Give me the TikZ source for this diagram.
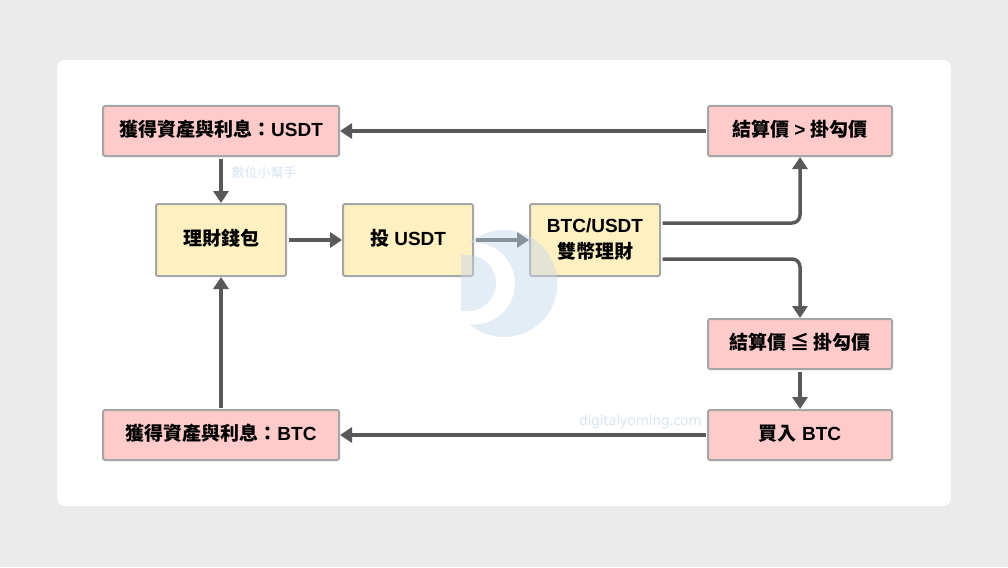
\documentclass[tikz,border=0pt]{standalone}
\usepackage{fontspec}
\setmainfont{Liberation Sans}
\newfontfamily\cjkfont{Noto Sans CJK TC}
\newfontfamily\markfont{Noto Sans}
\newcommand{\zh}[1]{{\cjkfont #1}}
\usetikzlibrary{arrows.meta}
\definecolor{pagegray}{HTML}{EBEBEB}
\definecolor{boxpink}{HTML}{FFCACA}
\definecolor{boxyellow}{HTML}{FFF0C2}
\definecolor{boxedge}{HTML}{A6A6A6}
\definecolor{linegray}{HTML}{595959}
\definecolor{markblue}{HTML}{C5D7EC}
\definecolor{marktext}{HTML}{D8E4F1}
\begin{document}
\begin{tikzpicture}[
x=1pt, y=-1pt,
flowbox/.style={rectangle, rounded corners=2pt, draw=boxedge, line width=2pt, inner sep=0pt, align=center, text height=15.4pt, text depth=5pt, font=\fontsize{19}{26}\selectfont\bfseries},
pinknode/.style={flowbox, fill=boxpink, minimum width=236pt, minimum height=50pt},
widenode/.style={flowbox, fill=boxpink, minimum width=184pt, minimum height=50pt},
yellownode/.style={flowbox, fill=boxyellow, minimum width=130pt, minimum height=72pt},
flowline/.style={draw=linegray, line width=3.5pt, shorten <=1.5pt, -{Triangle[length=12pt,width=15pt]}},
marknote/.style={text=marktext, inner sep=0pt},
]
\useasboundingbox (0,0) rectangle (1008,567);
\fill[pagegray] (0,0) rectangle (1008,567);
\fill[white, rounded corners=8pt] (57,60) rectangle (951,506);

%Nodes
\node[pinknode] (usdt_result) at (221,131) {\zh{獲得資產與利息：}USDT};
\node[yellownode] (wallet) at (221,240) {\zh{理財錢包}};
\node[yellownode] (invest) at (408,240) {\zh{投} USDT};
\node[yellownode, text height=, text depth=] (dual) at (595,240) {BTC/USDT\\\zh{雙幣理財}};
\node[widenode] (above_strike) at (800,131) {\zh{結算價} > \zh{掛勾價}};
\node[widenode] (below_strike) at (800,344) {\zh{結算價 ≦ 掛勾價}};
\node[widenode] (buy_btc) at (800,435) {\zh{買入} BTC};
\node[pinknode] (btc_result) at (221,435) {\zh{獲得資產與利息：}BTC};

%Lines
\draw[flowline] (usdt_result.south) -- (wallet.north);
\draw[flowline] (wallet.east) -- (invest.west);
\draw[flowline] (invest.east) -- (dual.west);
\draw[flowline, rounded corners=8pt] ([yshift=17pt]dual.east) -| (above_strike.south);
\draw[flowline, rounded corners=8pt] ([yshift=-19pt]dual.east) -| (below_strike.north);
\draw[flowline] (below_strike.south) -- (buy_btc.north);
\draw[flowline] (buy_btc.west) -- (btc_result.east);
\draw[flowline] (btc_result.north) -- (wallet.south);
\draw[flowline] (above_strike.west) -- (usdt_result.east);

%Watermark
\begin{scope}[fill=markblue, opacity=0.45]
\begin{scope}
\clip (470,220) rectangle (570,345);
\fill[even odd rule] (504,283.5) circle (53.5) (474,283.5) circle (41);
\end{scope}
\fill (461,255) -- (468,255) arc (-90:90:28) -- (461,311) -- cycle;
\end{scope}
\node[marknote, font=\fontsize{13}{13}\selectfont\cjkfont] (mark_zh) at (264,172.5) {數位小幫手};
\node[marknote, font=\fontsize{14}{14}\selectfont\markfont\bfseries] (mark_en) at (640.5,422) {digitalyoming.com};
\end{tikzpicture}
\end{document}
